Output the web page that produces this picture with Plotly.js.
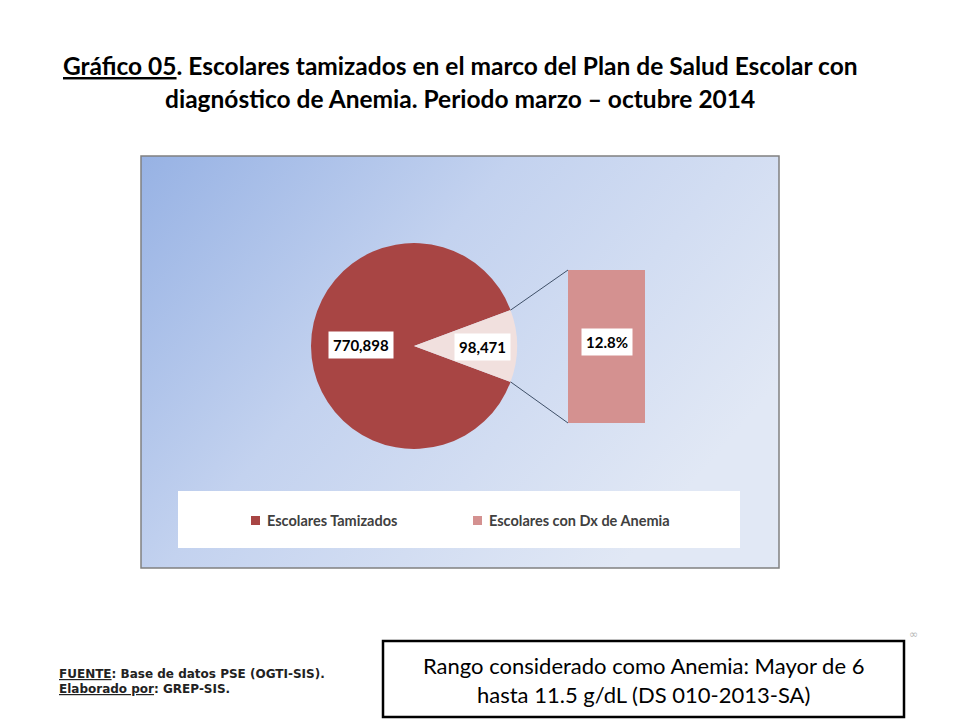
<!DOCTYPE html>
<html>
<head>
<meta charset="utf-8">
<script src="https://cdn.plot.ly/plotly-3.0.1.min.js"></script>
<style>
  body { margin: 0; background: #fff; }
  #chart { width: 960px; height: 720px; }
</style>
</head>
<body>
<div id="chart"></div>
<script>
// Data
var pie_labels = ['Escolares Tamizados', 'Escolares con Dx de Anemia'];
var pie_values = [770898, 98471];
var pie_colors = ['#a84544', '#f1e0de'];
var bar_color = '#d49190';
var legend_colors = ['#a84544', '#d49190'];

var title_lines = [
  '<b><u>Gráfico 05</u>. Escolares tamizados en el marco del Plan de Salud Escolar con</b>',
  '<b>diagnóstico de Anemia. Periodo marzo – octubre 2014</b>'
];
var source_lines = [
  '<b><u>FUENTE</u>: Base de datos PSE (OGTI-SIS).</b>',
  '<b><u>Elaborado por</u>: GREP-SIS.</b>'
];
var note_lines = [
  'Rango considerado como Anemia: Mayor de 6',
  'hasta 11.5 g/dL (DS 010-2013-SA)'
];

// Helpers: slide pixels -> paper
function px(x) { return x / 960; }
function py(y) { return 1 - y / 720; }

function fmt(n) { return n.toLocaleString('en-US'); }

// Derived
var total = pie_values[0] + pie_values[1];
var small_deg = pie_values[1] / total * 360;
var pct = pie_values[1] / pie_values[0] * 100;

// Pie geometry (slide px)
var pie_box = [311, 243, 517, 449];
var cx = (pie_box[0] + pie_box[2]) / 2;
var cy = (pie_box[1] + pie_box[3]) / 2;
var r = (pie_box[2] - pie_box[0]) / 2;
var bar_box = [568, 270, 645, 423];

function edge_point(deg) {
  var a = deg * Math.PI / 180;
  return [cx + r * Math.sin(a), cy - r * Math.cos(a)];
}
var p_top = edge_point(90 - small_deg / 2);
var p_bot = edge_point(90 + small_deg / 2);

// first slice starts at rotation, small slice closes the circle; centre it at 3 o'clock
var pie_trace = {
  type: 'pie',
  labels: pie_labels,
  values: pie_values,
  sort: false,
  direction: 'clockwise',
  rotation: 90 + small_deg / 2,
  marker: {colors: pie_colors, line: {width: 0}},
  textinfo: 'none',
  hoverinfo: 'none',
  showlegend: false,
  domain: {x: [px(pie_box[0]), px(pie_box[2])], y: [py(pie_box[3]), py(pie_box[1])]}
};

var bar_trace = {
  type: 'bar',
  x: [0],
  y: [pct],
  width: [1],
  marker: {color: bar_color, line: {width: 0}},
  hoverinfo: 'none',
  showlegend: false
};

var shapes = [
  // legend box
  {type: 'rect', xref: 'paper', yref: 'paper', layer: 'below',
   x0: px(178), x1: px(740), y0: py(548), y1: py(491),
   fillcolor: '#ffffff', line: {width: 0}},
  // chart frame
  {type: 'rect', xref: 'paper', yref: 'paper',
   x0: px(141), x1: px(779), y0: py(568), y1: py(156),
   line: {color: '#808080', width: 1.5}},
  // connector lines
  {type: 'line', xref: 'paper', yref: 'paper',
   x0: px(p_top[0]), y0: py(p_top[1]), x1: px(bar_box[0]), y1: py(bar_box[1]),
   line: {color: '#3f5068', width: 1}},
  {type: 'line', xref: 'paper', yref: 'paper',
   x0: px(p_bot[0]), y0: py(p_bot[1]), x1: px(bar_box[0]), y1: py(bar_box[3]),
   line: {color: '#3f5068', width: 1}},
  // note box
  {type: 'rect', xref: 'paper', yref: 'paper',
   x0: px(383), x1: px(904), y0: py(717), y1: py(641),
   line: {color: '#000000', width: 2.5}}
];

// legend swatches
var legend_x = [251, 473];
for (let i = 0; i < legend_x.length; i++) {
  shapes.push({type: 'rect', xref: 'paper', yref: 'paper',
    x0: px(legend_x[i]), x1: px(legend_x[i] + 9), y0: py(525), y1: py(516),
    fillcolor: legend_colors[i], line: {width: 0}});
}

function note(x, y, text, font, xanchor) {
  return {xref: 'paper', yref: 'paper', x: px(x), y: py(y), text: text,
    xanchor: xanchor || 'center', yanchor: 'middle', showarrow: false, font: font};
}

var label_font = {family: 'Lato', size: 15, color: '#000000', weight: 'bold'};
var annotations = [];
var a1 = note(361, 345, fmt(pie_values[0]), label_font);
var a2 = note(482, 347, fmt(pie_values[1]), label_font);
var a3 = {xref: 'x', yref: 'y', x: 0, y: pct * 0.53, text: pct.toFixed(1) + '%',
  xanchor: 'center', yanchor: 'middle', showarrow: false, font: label_font};
[a1, a2, a3].forEach(function(a) {
  a.bgcolor = '#ffffff';
  a.borderpad = 4;
  annotations.push(a);
});

var legend_text_x = [265, 487];
for (let i = 0; i < pie_labels.length; i++) {
  annotations.push(note(legend_text_x[i], 520, pie_labels[i],
    {family: 'Lato', size: 14.5, color: '#404040', weight: 'bold'}, 'left'));
}

var title_y = [65, 99];
for (let i = 0; i < title_lines.length; i++) {
  annotations.push(note(460, title_y[i], title_lines[i],
    {family: 'Lato', size: 24.5, color: '#000000'}));
}

var source_y = [674, 689];
for (let i = 0; i < source_lines.length; i++) {
  annotations.push(note(57, source_y[i], source_lines[i],
    {family: 'DejaVu Sans', size: 12, color: '#222222'}, 'left'));
}

var note_y = [665, 694];
for (let i = 0; i < note_lines.length; i++) {
  annotations.push(note(643, note_y[i], note_lines[i],
    {family: 'Lato', size: 22, color: '#000000'}));
}

annotations.push(note(913, 634, '∞', {family: 'DejaVu Sans', size: 11, color: '#b8b8b8'}));

// gradient background for the chart area
var grad_svg = '<svg xmlns="http://www.w3.org/2000/svg" width="638" height="412" preserveAspectRatio="none">' +
  '<defs><linearGradient id="g" x1="0" y1="0" x2="1" y2="0.55">' +
  '<stop offset="0" stop-color="#97b2e4"/>' +
  '<stop offset="0.45" stop-color="#c3d2ef"/>' +
  '<stop offset="1" stop-color="#e1e8f5"/>' +
  '</linearGradient></defs><rect width="638" height="412" fill="url(#g)"/></svg>';

var layout = {
  width: 960,
  height: 720,
  margin: {l: 0, r: 0, t: 0, b: 0},
  paper_bgcolor: '#ffffff',
  plot_bgcolor: 'rgba(0,0,0,0)',
  showlegend: false,
  xaxis: {domain: [px(bar_box[0]), px(bar_box[2])], range: [-0.5, 0.5],
    visible: false, fixedrange: true},
  yaxis: {domain: [py(bar_box[3]), py(bar_box[1])], range: [0, pct],
    visible: false, fixedrange: true},
  images: [{
    source: 'data:image/svg+xml;charset=utf-8,' + encodeURIComponent(grad_svg),
    xref: 'paper', yref: 'paper',
    x: px(141), y: py(156), sizex: px(638), sizey: 412 / 720,
    sizing: 'stretch', xanchor: 'left', yanchor: 'top', layer: 'below'
  }],
  shapes: shapes,
  annotations: annotations
};

var config = {displayModeBar: false, staticPlot: true};
Plotly.newPlot('chart', [pie_trace, bar_trace], layout, config);
</script>
</body>
</html>
